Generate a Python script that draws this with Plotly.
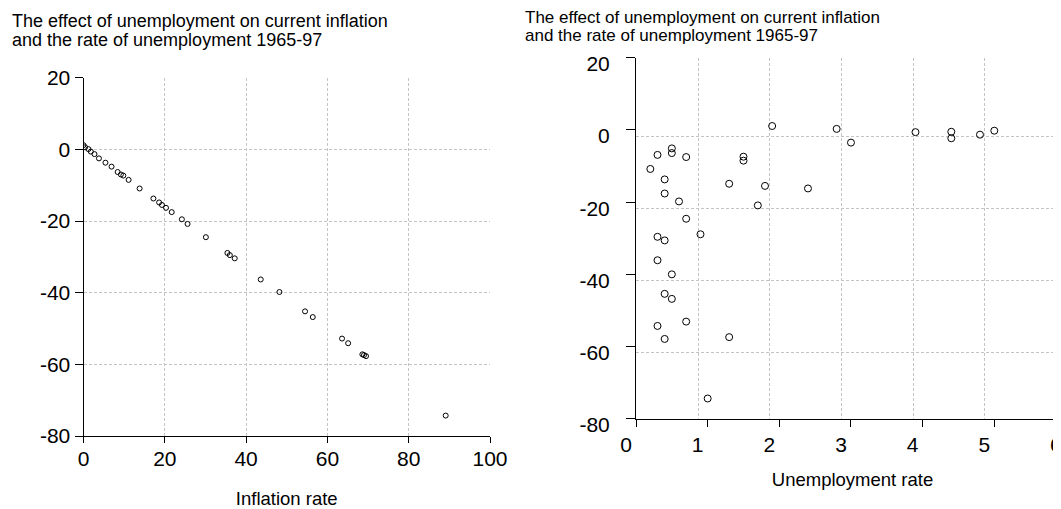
import plotly.graph_objects as go

# ---------------- data ----------------
# Left panel: inflation rate vs effect of unemployment on current inflation
inflation = [0.0, 0.4, 1.2, 1.8, 2.7, 3.8, 5.4, 6.9, 8.4, 9.2, 9.8, 11.1, 13.8,
             17.2, 18.6, 19.3, 20.3, 21.7, 24.2, 25.6, 30.1, 35.4, 36.0, 37.2,
             43.6, 48.2, 54.5, 56.4, 63.6, 65.1, 68.6, 69.0, 69.5, 89.1]
effect_left = [1.2, 0.6, 0.1, -0.6, -1.3, -2.5, -3.7, -4.8, -6.3, -7.0, -7.3, -8.5,
               -10.9, -13.7, -14.8, -15.5, -16.3, -17.5, -19.5, -20.8, -24.5, -28.9,
               -29.5, -30.4, -36.3, -39.8, -45.2, -46.8, -52.8, -54.1, -57.2, -57.4,
               -57.7, -74.3]

# Right panel: unemployment rate vs effect
unemployment = [0.2, 0.3, 0.5, 0.5, 0.7, 0.4, 0.4, 0.6, 0.7, 0.9, 0.3, 0.4,
                1.3, 1.5, 1.5, 1.8, 1.7, 1.9,
                0.3, 0.5, 0.4, 0.5, 0.7, 0.3, 0.4, 1.3, 1.0,
                2.4, 2.8, 3.0, 3.9, 4.4, 4.4, 4.8, 5.0]
effect_right = [-10.8, -6.9, -5.1, -6.4, -7.5, -13.7, -17.6, -19.8, -24.6, -28.9, -29.6, -30.6,
                -14.9, -7.4, -8.5, -15.5, -20.9, 1.1,
                -36.1, -40.0, -45.4, -46.8, -53.1, -54.3, -57.9, -57.4, -74.4,
                -16.2, 0.3, -3.5, -0.6, -0.5, -2.3, -1.3, -0.2]

title_lines = ["The effect of unemployment on current inflation",
               "and the rate of unemployment 1965-97"]
x_title_left = "Inflation rate"
x_title_right = "Unemployment rate"

left_xticks = [0, 20, 40, 60, 80, 100]
left_grid_x = [20, 40, 60, 80]
yticks = [-80, -60, -40, -20, 0, 20]
grid_y = [0, -20, -40, -60]
right_xticks = [0, 1, 2, 3, 4, 5, 6]
right_grid_x = [1, 2, 3, 4, 5]

# ---------------- figure ----------------
W, H = 1061, 509
OFF = 8          # default page (body) margin of the html page
FONT = "Liberation Sans, Arial, sans-serif"
GRID = "#c4c4c4"

def fx(px):      # screen x pixel -> paper fraction
    return (px - OFF) / W

def fy(py):      # screen y pixel -> paper fraction
    return (H - (py - OFF)) / H

fig = go.Figure()

fig.add_trace(go.Scatter(
    x=inflation, y=effect_left, mode="markers",
    marker=dict(symbol="circle-open", size=5, color="black", line=dict(width=1)),
    xaxis="x", yaxis="y", showlegend=False, hoverinfo="x+y"))

fig.add_trace(go.Scatter(
    x=unemployment, y=effect_right, mode="markers",
    marker=dict(symbol="circle-open", size=7, color="black", line=dict(width=1)),
    xaxis="x2", yaxis="y2", showlegend=False, hoverinfo="x+y"))

# empty traces so grid-only overlay axes are drawn
fig.add_trace(go.Scatter(x=[], y=[], xaxis="x3", yaxis="y3", showlegend=False))
fig.add_trace(go.Scatter(x=[], y=[], xaxis="x4", yaxis="y4", showlegend=False))

# pixel geometry (screen pixels) -> paper domains
lx0, lx1 = 83.5, 490.0
ly_top, ly_bot = 77.8, 436.0
rx0 = 636.0
rx1 = W + OFF          # figure's right edge (a little beyond the window)
ry_top, ry_bot = 57.8, 418.7

ldx = [fx(lx0), fx(lx1)]
ldy = [fy(ly_bot), fy(ly_top)]
rdx = [fx(rx0), 1.0]
rdy = [fy(ry_bot), fy(ry_top)]

r_unit = (994.3 - 636.0) / 5.0
r_xmax = (rx1 - rx0) / r_unit
x_shift = 9.5 / r_unit                   # grid offset (data units)
y_shift = 6.2 / ((ry_bot - ry_top) / 100.0)

tickfont = dict(family=FONT, size=21, color="black")
titlefont = dict(family=FONT, size=18.5, color="black")

common_line = dict(showline=True, linecolor="black", linewidth=1,
                   ticks="outside", tickcolor="black", tickwidth=1,
                   zeroline=False, showgrid=False, tickfont=tickfont, automargin=False)

grid_axis = dict(showgrid=True, gridcolor=GRID, gridwidth=1, griddash="3px,2px",
                 showticklabels=False, ticks="", showline=False, zeroline=False,
                 automargin=False)

fig.update_layout(
    width=W, height=H,
    margin=dict(l=0, r=0, t=0, b=0, pad=0, autoexpand=False),
    paper_bgcolor="white", plot_bgcolor="rgba(0,0,0,0)",
    font=dict(family=FONT, color="black"),
    xaxis=dict(domain=ldx, anchor="y", range=[0, 100], tickvals=left_xticks,
               ticktext=[str(v) for v in left_xticks],
               ticklen=6, ticklabelstandoff=-2,
               title=dict(text=x_title_left, font=titlefont, standoff=22),
               **common_line),
    yaxis=dict(domain=ldy, anchor="x", range=[-80, 20], tickvals=yticks,
               ticktext=[str(v) for v in yticks],
               ticklen=8, **common_line),
    xaxis2=dict(domain=rdx, anchor="y2", range=[0, r_xmax], tickvals=right_xticks,
                ticktext=[str(v) for v in right_xticks],
                ticklen=7, ticklabelshift=-10, ticklabelstandoff=0,
                title=dict(text=x_title_right, font=titlefont, standoff=18),
                **common_line),
    yaxis2=dict(domain=rdy, anchor="x2", range=[-80, 20], tickvals=yticks,
                ticktext=[str(v) for v in yticks],
                ticklen=9, ticklabelshift=6, ticklabelstandoff=12, **common_line),
    # grid-only overlay axes
    xaxis3=dict(overlaying="x", anchor="y3", range=[0, 100], tickvals=left_grid_x, **grid_axis),
    yaxis3=dict(overlaying="y", anchor="x3", range=[-80, 20], tickvals=grid_y, **grid_axis),
    xaxis4=dict(overlaying="x2", anchor="y4", range=[x_shift, r_xmax + x_shift],
                tickvals=right_grid_x, **grid_axis),
    yaxis4=dict(overlaying="y2", anchor="x4", range=[-80 + y_shift, 20 + y_shift],
                tickvals=grid_y, **grid_axis),
)

# titles (one annotation per line)
for i, line in enumerate(title_lines):
    fig.add_annotation(text=line, xref="paper", yref="paper", showarrow=False,
                       x=fx(10), y=fy(21 + 19 * i), xanchor="left", yanchor="middle",
                       font=dict(family=FONT, size=18, color="black"))
    fig.add_annotation(text=line, xref="paper", yref="paper", showarrow=False,
                       x=fx(523), y=fy(17 + 19 * i), xanchor="left", yanchor="middle",
                       font=dict(family=FONT, size=17, color="black"))

fig.write_html("out.html")
